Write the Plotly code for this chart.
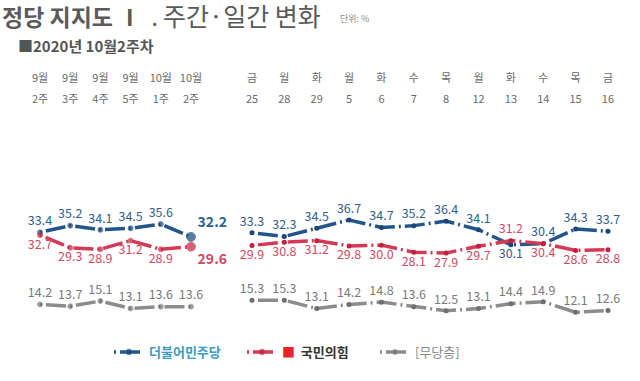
import plotly.graph_objects as go

# ---------------- data ----------------
week_row1 = ["9월", "9월", "9월", "9월", "10월", "10월"]
week_row2 = ["2주", "3주", "4주", "5주", "1주", "2주"]
day_row1 = ["금", "월", "화", "월", "화", "수", "목", "월", "화", "수", "목", "금"]
day_row2 = ["25", "28", "29", "5", "6", "7", "8", "12", "13", "14", "15", "16"]

dem_week = [33.4, 35.2, 34.1, 34.5, 35.6, 32.2]
ppp_week = [32.7, 29.3, 28.9, 31.2, 28.9, 29.6]
none_week = [14.2, 13.7, 15.1, 13.1, 13.6, 13.6]

dem_day = [33.3, 32.3, 34.5, 36.7, 34.7, 35.2, 36.4, 34.1, 30.1, 30.4, 34.3, 33.7]
ppp_day = [29.9, 30.8, 31.2, 29.8, 30.0, 28.1, 27.9, 29.7, 31.2, 30.4, 28.6, 28.8]
none_day = [15.3, 15.3, 13.1, 14.2, 14.8, 13.6, 12.5, 13.1, 14.4, 14.9, 12.1, 12.6]

series_names = ["더불어민주당", "국민의힘", "[무당층]"]

# ---------------- layout helpers ----------------
W, H = 640, 381
PLOT_TOP, PLOT_BOT = 110, 330
FONT = "Noto Sans CJK KR"


def py(px):
    return (PLOT_BOT - px) / (PLOT_BOT - PLOT_TOP)


def pxx(px):
    return px / W


BLUE = "#22558c"
BLUE_DOT = "#1a4678"
RED = "#d43a55"
RED_DOT = "#c4203e"
GRAY = "#8c8c8c"
GRAY_DOT = "#6e6e6e"
BLUE_TXT = "#2f5f8e"
RED_TXT = "#d24a63"
GRAY_TXT = "#7a7a7a"
DASH = "2px,4px,20px,4px"

fig = go.Figure()


def fmt(vals, bold_last=False):
    out = [f"{v:.1f}" for v in vals]
    if bold_last:
        out[-1] = f"<b>{out[-1]}</b>"
    return out


wx = list(range(len(week_row2)))
dx = list(range(len(day_row2)))

# text positions
dem_w_pos = ["top center"] * 5 + ["top right"]
ppp_w_pos = ["bottom center"] * 5 + ["bottom right"]
none_w_pos = ["top center"] * 6
dem_d_pos = ["bottom center" if d < p else "top center" for d, p in zip(dem_day, ppp_day)]
ppp_d_pos = ["top center" if p > d else "bottom center" for d, p in zip(dem_day, ppp_day)]
none_d_pos = ["top center"] * 12

specs = [
    (series_names[0], dem_week, dem_day, BLUE, BLUE_DOT, BLUE_TXT, dem_w_pos, dem_d_pos,
     "<span style='color:#3b9cc4'><b>더불어민주당</b></span>"),
    (series_names[1], ppp_week, ppp_day, RED, RED_DOT, RED_TXT, ppp_w_pos, ppp_d_pos,
     "<span style='color:#e8232b'>■</span>  <b>국민의힘</b>"),
    (series_names[2], none_week, none_day, GRAY, GRAY_DOT, GRAY_TXT, none_w_pos, none_d_pos,
     "<span style='color:#8a8a8a'>[무당층]</span>"),
]

for i, (name, wk, dy, lc, mc, tc, wpos, dpos, legname) in enumerate(specs):
    big = i < 2
    msize_w = [5] * 5 + ([9] if big else [5])
    fig.add_trace(go.Scatter(
        x=wx, y=wk, xaxis="x", yaxis="y", mode="lines+markers+text",
        name=legname, legendgroup=name, showlegend=True,
        line=dict(color=lc, width=3.5, dash=DASH),
        marker=dict(color=mc, size=msize_w),
        text=fmt(wk, bold_last=big), textposition=wpos,
        textfont=dict(family=FONT, size=[12.5] * 5 + ([14] if big else [12.5]), color=tc),
        cliponaxis=False, hoverinfo="skip",
    ))
    fig.add_trace(go.Scatter(
        x=dx, y=dy, xaxis="x2", yaxis="y", mode="lines+markers+text",
        name=legname, legendgroup=name, showlegend=False,
        line=dict(color=lc, width=3.5, dash=DASH),
        marker=dict(color=mc, size=5),
        text=fmt(dy), textposition=dpos,
        textfont=dict(family=FONT, size=12.5, color=tc),
        cliponaxis=False, hoverinfo="skip",
    ))

# invisible helpers for the overlaid label axes
fig.add_trace(go.Scatter(x=wx, y=[20] * len(wx), xaxis="x3", yaxis="y", mode="markers",
                         marker=dict(opacity=0), showlegend=False, hoverinfo="skip"))
fig.add_trace(go.Scatter(x=dx, y=[20] * len(dx), xaxis="x4", yaxis="y", mode="markers",
                         marker=dict(opacity=0), showlegend=False, hoverinfo="skip"))

tickfont = dict(family=FONT, size=11, color="#6a6a6a")
L_DOM = [0, 0.36]
R_DOM = [0.36, 1]
L_RANGE = [-1.325, 6.305]
R_RANGE = [-0.667, 11.99]
common = dict(showgrid=False, zeroline=False, showline=False, ticks="", side="top",
              tickfont=tickfont, fixedrange=True, automargin=False)

fig.update_layout(
    template="none",
    width=W, height=H,
    margin=dict(l=0, r=0, t=PLOT_TOP, b=H - PLOT_BOT, pad=0, autoexpand=False),
    paper_bgcolor="white", plot_bgcolor="white",
    font=dict(family=FONT),
    xaxis=dict(domain=L_DOM, range=L_RANGE, anchor="y", tickvals=wx, ticktext=week_row2,
               ticklabelstandoff=4, **common),
    xaxis3=dict(overlaying="x", range=L_RANGE, anchor="y", tickvals=wx, ticktext=week_row1,
                ticklabelstandoff=25, **common),
    xaxis2=dict(domain=R_DOM, range=R_RANGE, anchor="y", tickvals=dx, ticktext=day_row2,
                ticklabelstandoff=4, **common),
    xaxis4=dict(overlaying="x2", range=R_RANGE, anchor="y", tickvals=dx, ticktext=day_row1,
                ticklabelstandoff=25, **common),
    yaxis=dict(range=[7.37, 66.03], visible=False, fixedrange=True, automargin=False,
               domain=[0, 1]),
    showlegend=True,
    legend=dict(orientation="h", x=pxx(109), xanchor="left", y=py(352), yanchor="middle",
                font=dict(family=FONT, size=13, color="#333"), itemwidth=30,
                entrywidth=88, entrywidthmode="pixels",
                bgcolor="rgba(0,0,0,0)", traceorder="normal"),
)

# title texts
fig.add_annotation(xref="paper", yref="paper", x=pxx(0), y=py(15), xanchor="left", yanchor="middle",
                   text="<b>정당 지지도 Ⅰ</b>  . <span style='font-size:25px'>주간·일간 변화</span>",
                   showarrow=False,
                   font=dict(family=FONT, size=23, color="#5a5a5a"))
fig.add_annotation(xref="paper", yref="paper", x=pxx(338), y=py(18), xanchor="left", yanchor="middle",
                   text="단위: %", showarrow=False,
                   font=dict(family=FONT, size=9, color="#8a8a8a"))
fig.add_annotation(xref="paper", yref="paper", x=pxx(16), y=py(45), xanchor="left", yanchor="middle",
                   text="<b>■2020년 10월2주차</b>", showarrow=False,
                   font=dict(family=FONT, size=15, color="#555555"))

fig.write_html("out.html", config={"displayModeBar": False},
               post_script="document.body.style.margin='0px';")
